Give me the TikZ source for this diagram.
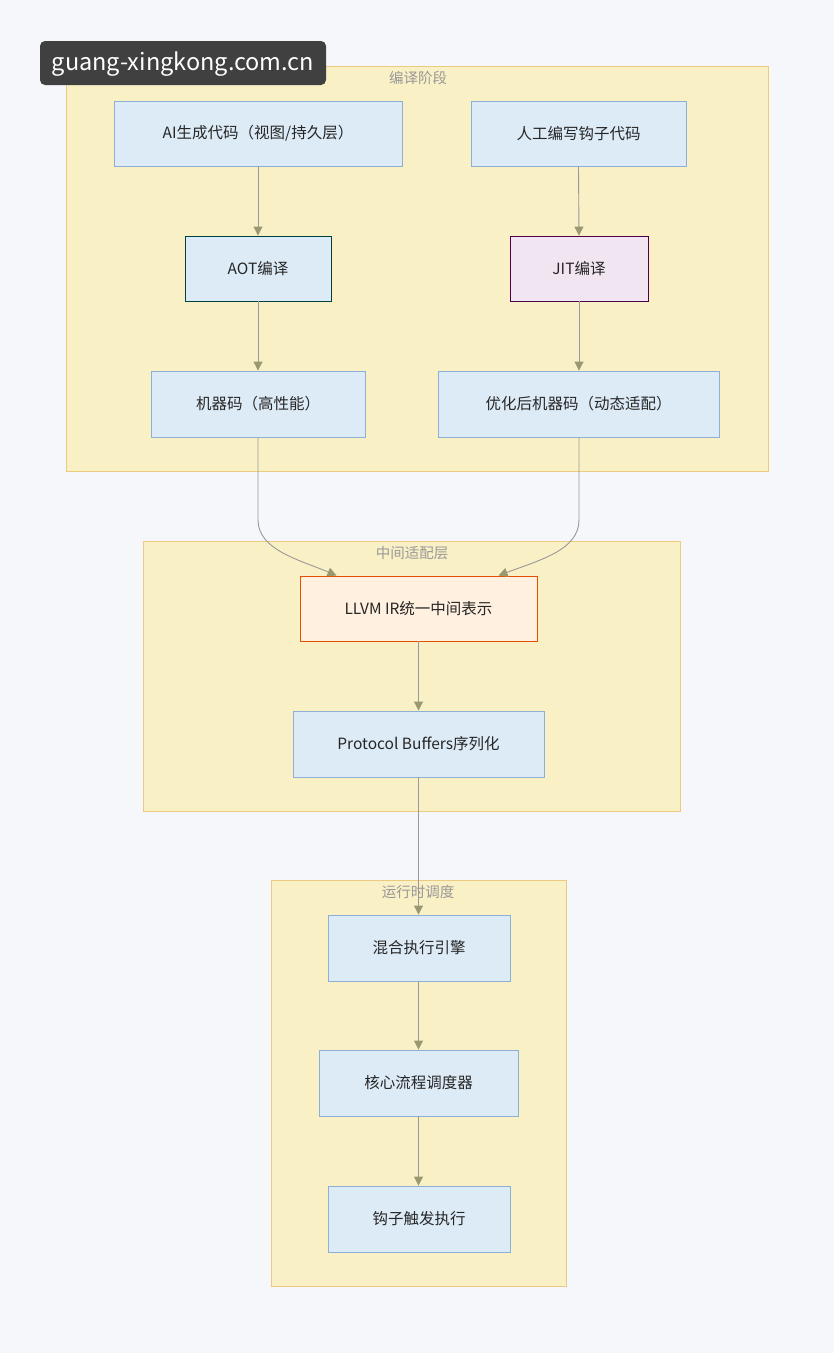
\documentclass[tikz,border=0pt]{standalone}
\usepackage{fontspec}
\setmainfont{Noto Sans CJK SC}
\usetikzlibrary{arrows.meta}
\definecolor{bg}{HTML}{F6F7FA}
\definecolor{clfill}{HTML}{FAF0C6}
\definecolor{cldraw}{HTML}{EBCB80}
\definecolor{nfill}{HTML}{DDEBF6}
\definecolor{ndraw}{HTML}{8EB0D6}
\definecolor{edge}{HTML}{999999}
\definecolor{tip}{HTML}{9A9870}
\begin{document}
\begin{tikzpicture}[x=1pt,y=-1pt,
  cl/.style={fill=clfill,draw=cldraw,line width=0.8pt},
  cllab/.style={text=gray!80,font=\fontsize{14.5}{16}\selectfont},
  nd/.style={draw=ndraw,fill=nfill,line width=0.9pt},
  tx/.style={font=\fontsize{15.5}{18}\selectfont,text=black!85},
  ed/.style={draw=edge,line width=0.9pt,-{Triangle[length=9pt,width=9pt,fill=tip,color=tip]}}]
\fill[bg] (0,0) rectangle (834,1353);
\useasboundingbox (0,0) rectangle (834,1353);
\draw[cl] (66,66) rectangle (768,471);
\draw[cl] (143,541) rectangle (680,811);
\draw[cl] (271,880) rectangle (566,1286);
\node[cllab] (l1) at (418,78) {编译阶段};
\node[cllab] (l2) at (412,553) {中间适配层};
\node[cllab] (l3) at (418,892) {运行时调度};
\newcommand{\bx}[6]{\node[nd,#6,minimum width=#4-#2,minimum height=#5-#3,inner sep=0pt] (#1) at ({(#2+#4)/2},{(#3+#5)/2}) {};}
\bx{A}{114}{101}{402}{166}{}
\bx{B}{471}{101}{686}{166}{}
\bx{C}{185}{236}{331}{301}{draw=teal!50!black}
\bx{D}{510}{236}{648}{301}{fill=violet!10,draw=violet!60!black}
\bx{E}{151}{371}{365}{437}{}
\bx{F}{438}{371}{719}{437}{}
\bx{G}{300}{576}{537}{641}{fill=orange!12,draw=orange!70!red!90!black}
\bx{H}{293}{711}{544}{777}{}
\bx{I}{328}{915}{510}{981}{}
\bx{J}{319}{1050}{518}{1116}{}
\bx{K}{328}{1186}{510}{1252}{}
\node[tx] (tA) at (A) {AI生成代码（视图/持久层）};
\node[tx] (tB) at (B) {人工编写钩子代码};
\node[tx] (tC) at (C) {AOT编译};
\node[tx] (tD) at (D) {JIT编译};
\node[tx] (tE) at (E) {机器码（高性能）};
\node[tx] (tF) at (F) {优化后机器码（动态适配）};
\node[tx] (tG) at (G) {LLVM IR统一中间表示};
\node[tx] (tH) at (H) {Protocol Buffers序列化};
\node[tx] (tI) at (I) {混合执行引擎};
\node[tx] (tJ) at (J) {核心流程调度器};
\node[tx] (tK) at (K) {钩子触发执行};
\draw[ed] (A.south -| C) -- (C.north);
\draw[ed] (B.south) -- (D.north);
\draw[ed] (C.south) -- (E.north -| C);
\draw[ed] (D.south) -- (F.north -| D);
\draw[ed] (E.south -| C) -- (258,520) .. controls (258,550) and (300,560) .. ([xshift=-82pt]G.north);
\draw[ed] (F.south -| D) -- (579,520) .. controls (579,550) and (540,560) .. ([xshift=80pt]G.north);
\draw[ed] (G.south -| H) -- (H.north);
\draw[ed] (H.south) -- (H.south |- I.north);
\draw[ed] (I.south -| H) -- (J.north -| H);
\draw[ed] (J.south -| H) -- (K.north -| H);
\fill[black!75,rounded corners=5pt] (40,41) rectangle (326,85);
\node[text=white,font=\fontsize{23.5}{26}\selectfont] (wm) at (183,64) {guang-xingkong.com.cn};
\end{tikzpicture}
\end{document}
